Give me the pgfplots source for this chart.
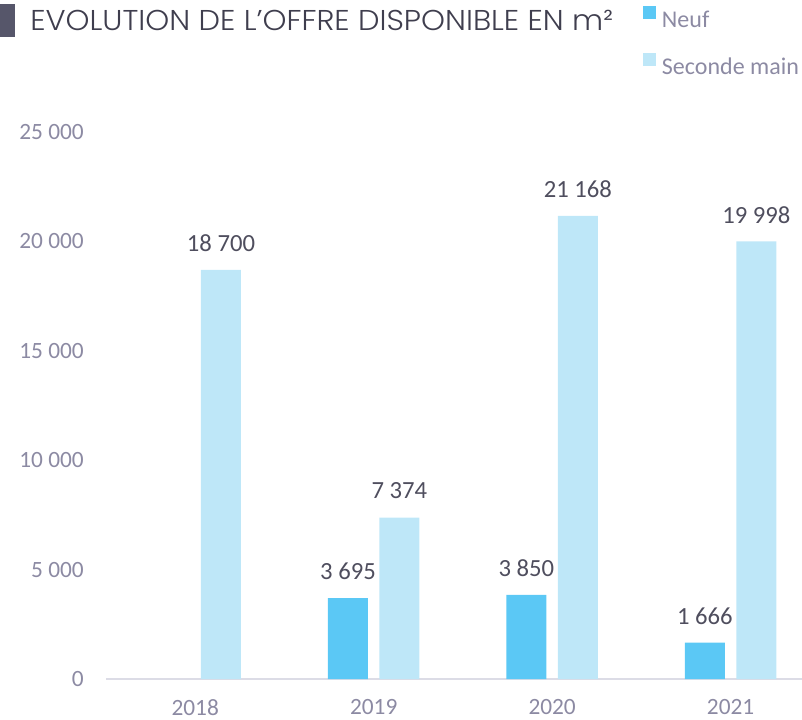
\documentclass[border=0pt]{standalone}
\usepackage{pgfplots}
\pgfplotsset{compat=1.18}
\usepackage{fontspec}
\setmainfont{Carlito}
\newfontfamily\titlefont{Poppins Light}
\definecolor{neuf}{HTML}{5BC8F5}
\definecolor{seconde}{HTML}{BEE7F8}
\definecolor{ticklab}{HTML}{8C8AA3}
\definecolor{datalab}{HTML}{4F4E5E}
\definecolor{titlecol}{HTML}{3F3E4E}
\definecolor{sq}{HTML}{56566A}
\definecolor{axisline}{HTML}{DCDCE6}
\begin{document}
\begin{tikzpicture}
\useasboundingbox (0,0) rectangle (601.5pt,-540pt);
\fill[sq] (0,-3pt) rectangle (11.25pt,-27.75pt);
\node[anchor=base west, inner sep=0pt, font=\titlefont\fontsize{21.5}{24}\selectfont, text=titlecol, xscale=1.062] at (22.5pt,-23pt) {EVOLUTION DE L’OFFRE DISPONIBLE EN m²};
\begin{axis}[
  at={(79.5pt,-509.25pt)}, anchor=south west,
  scale only axis, width=522pt, height=410.25pt,
  xmin=-0.5, xmax=3.4, ymin=0, ymax=25000,
  ybar=8.6pt, bar width=30pt,
  axis y line*=left, axis x line*=bottom,
  y axis line style={draw=none},
  x axis line style={axisline, line width=1.5pt},
  xtick={0,1,2,3}, xticklabels={2018,2019,2020,2021},
  ytick={0,5000,10000,15000,20000,25000},
  major tick length=0pt,
  scaled y ticks=false,
  /pgf/number format/assume math mode=true,
  /pgf/number format/1000 sep={\ },
  tick label style={font=\fontsize{17.5}{20}\selectfont, text=ticklab},
  yticklabel style={anchor=east, inner sep=0pt, xshift=-16.5pt},
  xticklabel style={anchor=north, inner sep=0pt, yshift=-15pt},
  nodes near coords,
  nodes near coords style={font=\fontsize{18.5}{22}\selectfont, text=datalab, anchor=center, yshift=20pt, inner sep=0pt},
  clip=false,
  legend cell align=left,
  legend image code/.code={\fill[#1,draw=none] (0pt,1pt) rectangle (9.5pt,10.5pt); \path (14pt,0pt);},
  legend style={at={(0.7716,1.230)}, anchor=north west, draw=none, fill=none, inner sep=0pt, row sep=17.5pt,
    nodes={inner sep=0pt, text=ticklab, font=\fontsize{18}{21}\selectfont}},
]
\addplot[fill=neuf, draw=none] coordinates {(1,3695) (2,3850) (3,1666)};
\addplot[fill=seconde, draw=none] coordinates {(0,18700) (1,7374) (2,21168) (3,19998)};
\legend{Neuf, Seconde main}
\end{axis}
\end{tikzpicture}
\end{document}
